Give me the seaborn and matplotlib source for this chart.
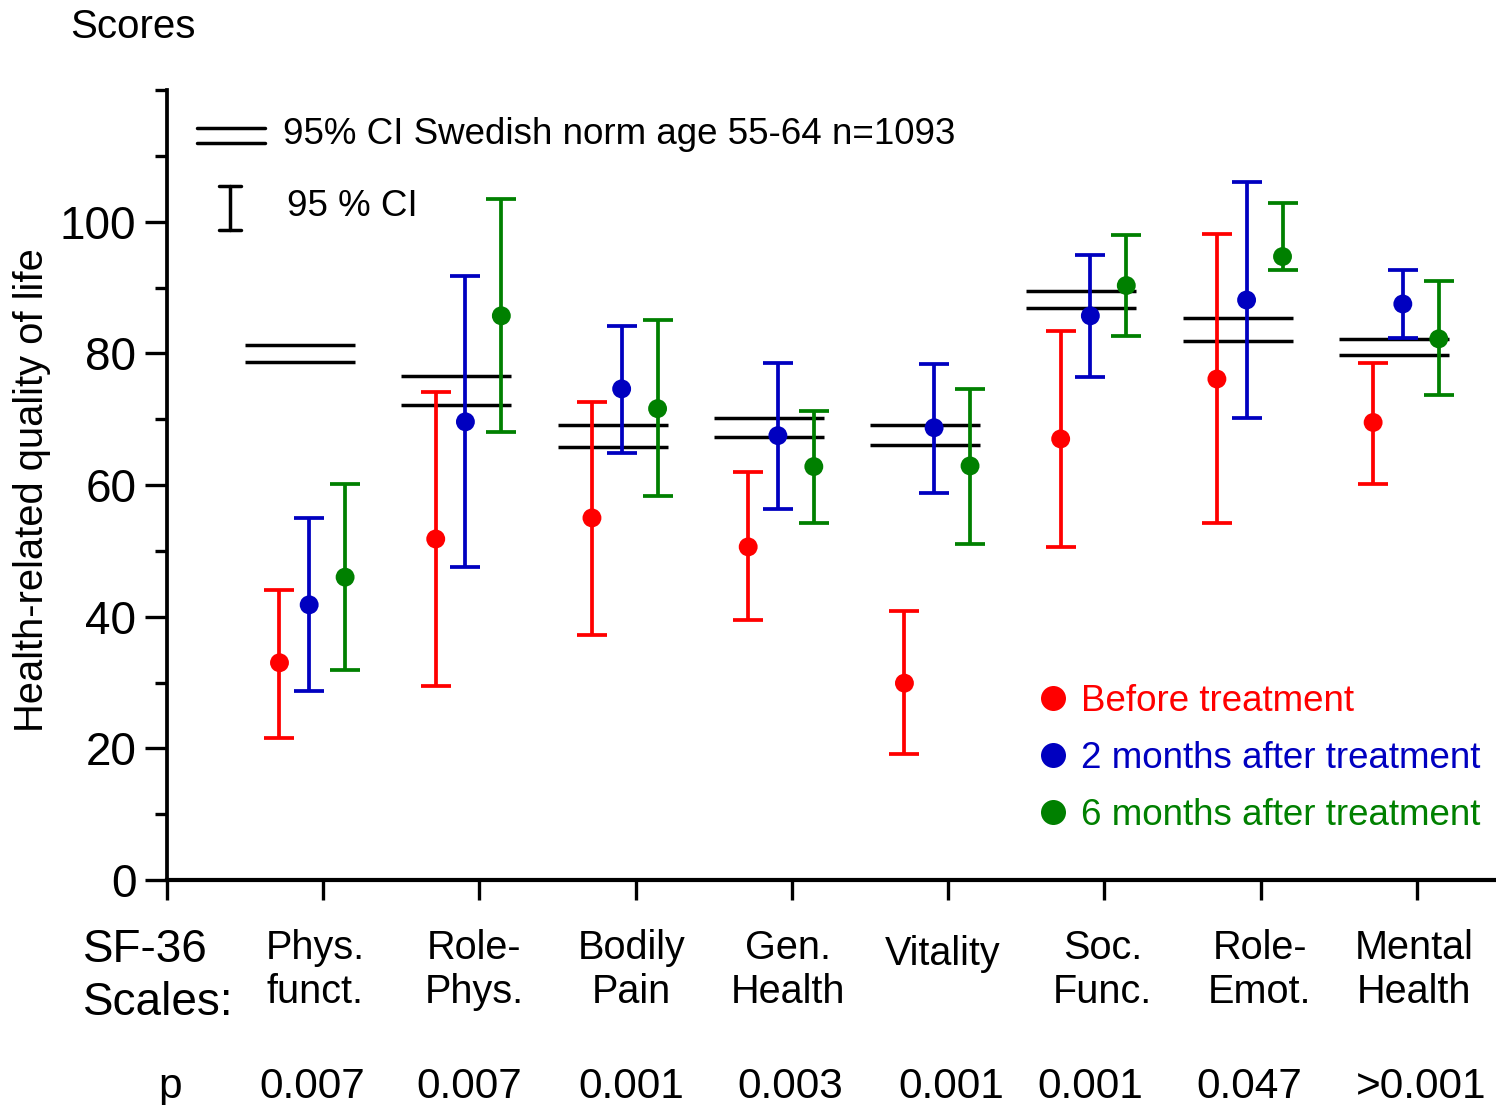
import numpy as np
import pandas as pd
import matplotlib
matplotlib.use("Agg")
import matplotlib.pyplot as plt
import seaborn as sns
from matplotlib.lines import Line2D
from matplotlib.transforms import blended_transform_factory
from matplotlib.ticker import FixedLocator

# ---------------- data ----------------
scales = ["Phys.\nfunct.", "Role-\nPhys.", "Bodily\nPain", "Gen.\nHealth",
          "Vitality", "Soc.\nFunc.", "Role-\nEmot.", "Mental\nHealth"]
p_values = ["0.007", "0.007", "0.001", "0.003", "0.001", "0.001", "0.047", ">0.001"]
groups = ["Before treatment", "2 months after treatment", "6 months after treatment"]

before_mean = [33.0, 51.8, 55.0, 50.6, 29.9, 67.0, 76.1, 69.5]
before_lo = [21.6, 29.5, 37.2, 39.5, 19.1, 50.6, 54.3, 60.2]
before_hi = [44.1, 74.2, 72.6, 61.9, 40.9, 83.4, 98.2, 78.6]

m2_mean = [41.8, 69.6, 74.6, 67.5, 68.7, 85.7, 88.1, 87.5]
m2_lo = [28.7, 47.6, 64.9, 56.4, 58.8, 76.4, 70.2, 82.4]
m2_hi = [55.0, 91.8, 84.2, 78.6, 78.4, 95.0, 106.1, 92.6]

m6_mean = [46.0, 85.7, 71.6, 62.8, 62.9, 90.3, 94.7, 82.2]
m6_lo = [31.9, 68.1, 58.4, 54.3, 51.1, 82.7, 92.6, 73.7]
m6_hi = [60.2, 103.5, 85.1, 71.3, 74.6, 97.9, 102.9, 91.0]

norm_upper = [81.2, 76.6, 69.1, 70.2, 69.1, 89.4, 85.4, 82.2]
norm_lower = [78.7, 72.2, 65.8, 67.3, 66.1, 86.9, 81.8, 79.8]

# ---------------- style ----------------
sns.set_style("ticks")
plt.rcParams["font.family"] = ["Liberation Sans", "DejaVu Sans"]
for k in ["text.color", "axes.labelcolor", "xtick.color", "ytick.color",
          "axes.edgecolor"]:
    plt.rcParams[k] = "black"

colors = ["#FF0000", "#0000C0", "#008000"]
offsets = [-0.28, -0.09, 0.14]
palette = dict(zip(groups, colors))
# small horizontal nudges (pixels) of the text under each tick
label_dx = [-8, -5, -4, -4, -5, -2, -1, -3]
p_dx = [-11, -10, -4, -2, 3, -14, -11, 4]

pos = np.arange(1, len(scales) + 1)
rows = []
for g, (m, lo, hi), off in zip(groups,
                               [(before_mean, before_lo, before_hi),
                                (m2_mean, m2_lo, m2_hi),
                                (m6_mean, m6_lo, m6_hi)], offsets):
    for i in range(len(scales)):
        rows.append(dict(scale=scales[i], group=g, x=pos[i] + off,
                         mean=m[i], lo=lo[i], hi=hi[i]))
df = pd.DataFrame(rows)

W, H = 1496, 1105
fig = plt.figure(figsize=(W / 100, H / 100), dpi=100)
ax = fig.add_axes([167 / W, 225 / H, 1328 / W, 790 / H])
PXU = 1328 / 8.5  # pixels per x unit

LW = 2.5
# norm lines
ax.hlines(norm_upper, pos - 0.5, pos + 0.205, color="black", lw=LW, zorder=2)
ax.hlines(norm_lower, pos - 0.5, pos + 0.205, color="black", lw=LW, zorder=2)

# error bars
for g in groups:
    d = df[df.group == g]
    ax.errorbar(d.x, d["mean"], yerr=[d["mean"] - d.lo, d.hi - d["mean"]],
                fmt="none", ecolor=palette[g], elinewidth=LW + 0.2, capsize=11,
                capthick=LW + 0.2, zorder=3)

sns.scatterplot(data=df, x="x", y="mean", hue="group", palette=palette,
                s=185, linewidth=0, legend=False, ax=ax, zorder=4)

# axes
ax.set_xlim(0, 8.5)
ax.set_ylim(0, 120)
ax.set_xlabel("")
ax.set_ylabel("")
for s in ["top", "right"]:
    ax.spines[s].set_visible(False)
ax.spines["left"].set_linewidth(2.7)
ax.spines["bottom"].set_linewidth(3.0)
ax.set_xticks(range(0, 9))
ax.set_xticklabels([])
ax.set_yticks(range(0, 101, 20))
ax.yaxis.set_minor_locator(FixedLocator([10, 30, 50, 70, 90, 110, 120]))
ax.tick_params(axis="x", which="major", direction="out", length=14.5, width=2.4)
ax.tick_params(axis="y", which="major", direction="out", length=16, width=2.4,
               labelsize=33, pad=6)
ax.tick_params(axis="y", which="minor", direction="out", length=9, width=2.4)

# y label & title
fig.text(32 / W, 1 - 490 / H, "Health-related quality of life", rotation=90,
         ha="center", va="center", fontsize=28.7)
fig.text(70 / W, 1 - 27 / H, "Scores", ha="left", va="center", fontsize=29)

# category labels and p-values (baseline of last line)
tr = blended_transform_factory(ax.transData, fig.transFigure)
for i, (lab, p) in enumerate(zip(scales, p_values)):
    yb = 1003 if "\n" in lab else 965
    ax.text(pos[i] + label_dx[i] / PXU, 1 - yb / H, lab, transform=tr,
            ha="center", va="baseline", fontsize=28.5,
            multialignment="center", linespacing=1.2)
    ax.text(pos[i] + p_dx[i] / PXU, 1 - 1098 / H, p, transform=tr,
            ha="center", va="baseline", fontsize=30.5)
fig.text(83 / W, 1 - 1015 / H, "SF-36\nScales:", ha="left", va="baseline",
         fontsize=33, linespacing=1.25)
fig.text(170 / W, 1 - 1098 / H, "p", ha="center", va="baseline", fontsize=30.5)

# top-left key
def fl(xs, ys):
    fig.add_artist(Line2D([x / W for x in xs], [1 - y / H for y in ys],
                          color="black", lw=LW, transform=fig.transFigure))
fl([197, 265], [128, 128])
fl([197, 265], [143, 143])
fl([230, 230], [186, 230])
fl([219, 241], [186, 186])
fl([219, 241], [230, 230])
fig.text(283 / W, 1 - 134 / H, "95% CI Swedish norm age 55-64 n=1093",
         ha="left", va="center", fontsize=26.5)
fig.text(287 / W, 1 - 206 / H, "95 % CI", ha="left", va="center", fontsize=26.5)

# group legend
handles = [Line2D([], [], marker="o", linestyle="none", markersize=18,
                  markerfacecolor=c, markeredgewidth=0) for c in colors]
leg = ax.legend(handles, groups, loc="upper left",
                bbox_to_anchor=(1034.6 / W, 1 - 684 / H),
                bbox_transform=fig.transFigure, frameon=False, fontsize=26.5,
                handlelength=1.0, handletextpad=0.26, labelspacing=0.6,
                borderpad=0, borderaxespad=0)
for t, c in zip(leg.get_texts(), colors):
    t.set_color(c)

fig.savefig("out.png", dpi=100)
